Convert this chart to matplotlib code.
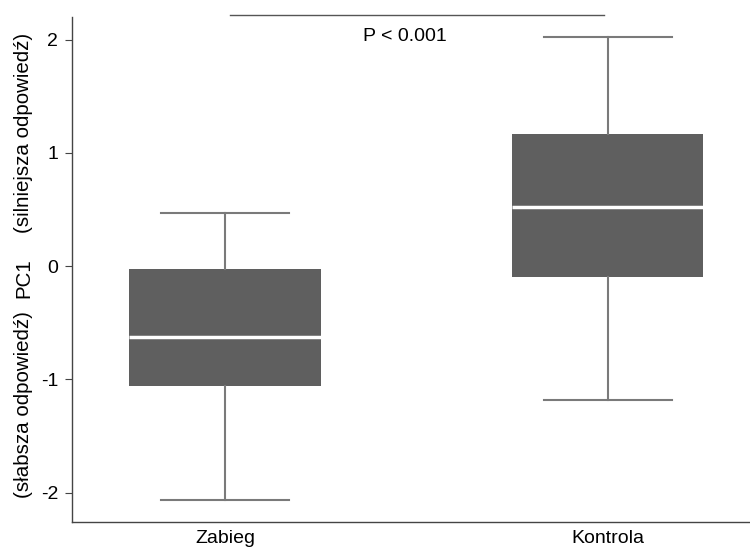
import matplotlib
matplotlib.use('Agg')
import matplotlib.pyplot as plt

plt.rcParams['font.family'] = ['Liberation Sans', 'DejaVu Sans']
plt.rcParams['font.size'] = 14

# Box statistics
groups = ['Zabieg', 'Kontrola']
medians = [-0.63, 0.52]
q1 = [-1.06, -0.10]
q3 = [-0.03, 1.17]
whislo = [-2.07, -1.18]
whishi = [0.47, 2.02]
p_text = 'P < 0.001'

stats = []
for i, g in enumerate(groups):
    stats.append({'label': g, 'med': medians[i], 'q1': q1[i], 'q3': q3[i],
                  'whislo': whislo[i], 'whishi': whishi[i], 'fliers': []})

fig = plt.figure(figsize=(7.5, 5.5), dpi=100)
ax = fig.add_axes([0.096, 0.051, 0.903, 0.918])

box_color = '#5f5f5f'
line_color = '#7a7a7a'
ax.bxp(stats, positions=[1, 2], widths=0.5, capwidths=0.335, patch_artist=True,
       showfliers=False,
       boxprops=dict(facecolor=box_color, edgecolor=box_color, linewidth=0),
       medianprops=dict(color='white', linewidth=2.5),
       whiskerprops=dict(color=line_color, linewidth=1.5),
       capprops=dict(color=line_color, linewidth=1.5))

ax.set_xlim(0.6, 2.37)
ax.set_ylim(-2.26, 2.2)
ax.set_yticks([-2, -1, 0, 1, 2])
ax.set_yticklabels(['-2', '-1', '0', '1', '2'])

for s in ['top', 'right']:
    ax.spines[s].set_visible(False)
for s in ['left', 'bottom']:
    ax.spines[s].set_color('#444444')
    ax.spines[s].set_linewidth(1)
ax.tick_params(axis='x', length=0, pad=6)
ax.tick_params(axis='y', length=5, color='#444444', pad=5)

# Split y axis label
lab_size = 14.8
ax.text(-0.071, 0.232, '(słabsza odpowiedź)', transform=ax.transAxes,
        rotation=90, ha='center', va='center', fontsize=lab_size)
ax.text(-0.071, 0.483, 'PC1', transform=ax.transAxes,
        rotation=90, ha='center', va='center', fontsize=lab_size)
ax.text(-0.071, 0.77, '(silniejsza odpowiedź)', transform=ax.transAxes,
        rotation=90, ha='center', va='center', fontsize=lab_size)

# Significance line
ax.plot([1.013, 1.99], [2.22, 2.22], color='#555555', linewidth=1, clip_on=False)
ax.text(1.47, 2.03, p_text, ha='center', va='center')

fig.savefig('out.png', dpi=100)
